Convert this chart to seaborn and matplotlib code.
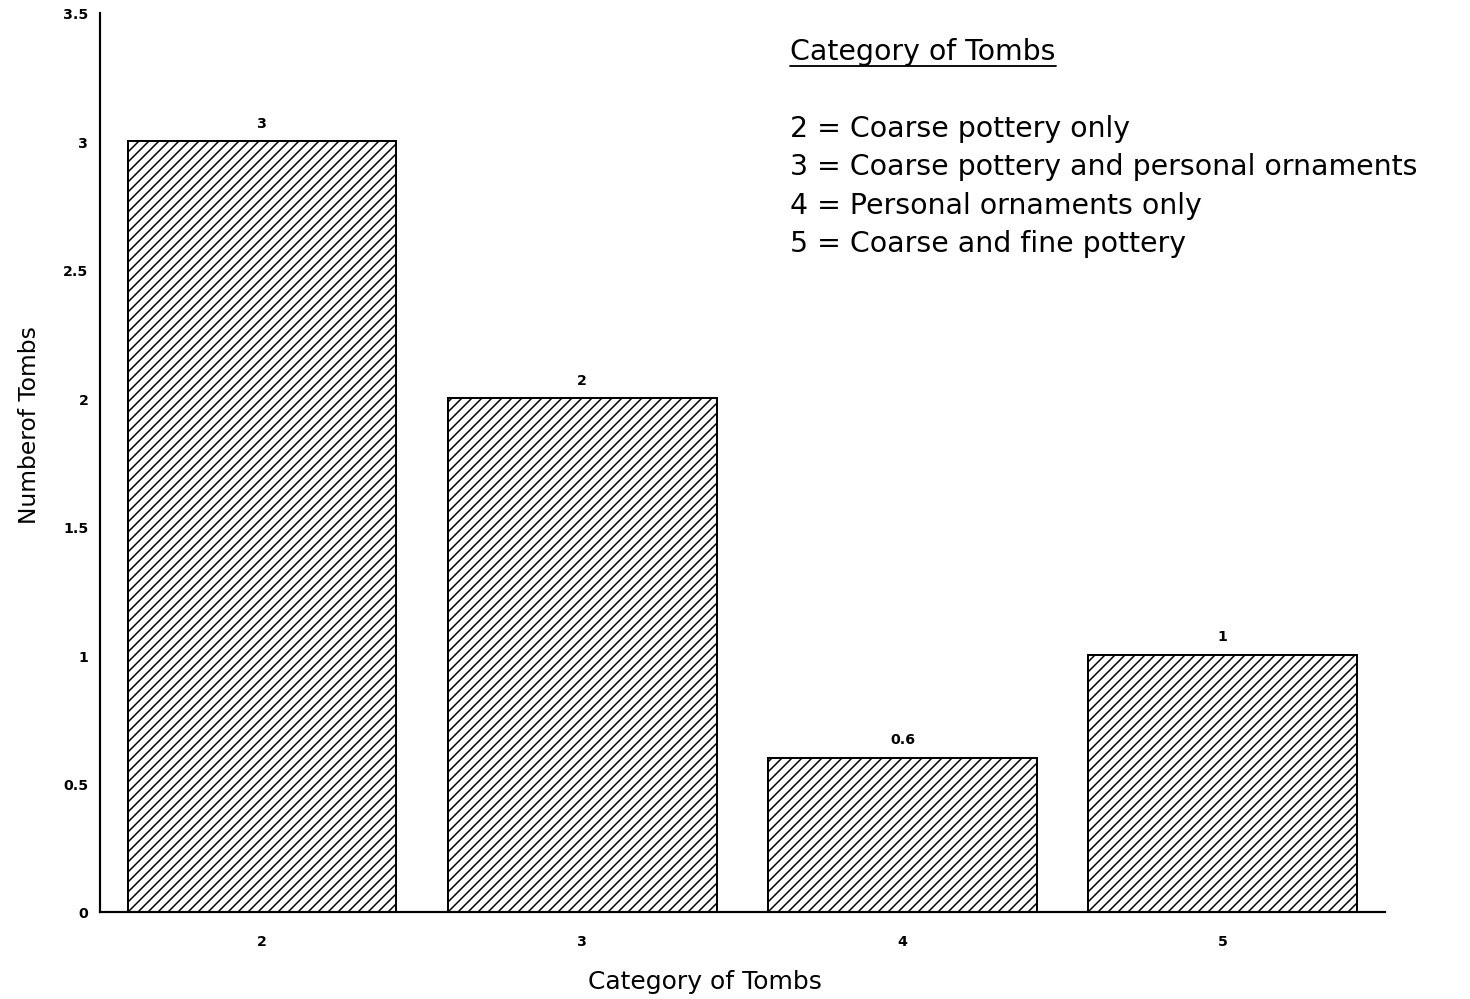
"""
Bar chart of tomb counts by category, hatched bars in the old report style.
"""

import matplotlib
matplotlib.use("Agg")
import matplotlib.pyplot as plt
from matplotlib.lines import Line2D
import seaborn as sns

categories = ["2", "3", "4", "5"]
tomb_counts = [3, 2, 0.6, 1]
bar_labels = ["3", "2", "0.6", "1"]
y_ticks = [0, 0.5, 1, 1.5, 2, 2.5, 3, 3.5]
y_tick_labels = ["0", "0.5", "1", "1.5", "2", "2.5", "3", "3.5"]
key_title = "Category of Tombs"
key_lines = [
    "2 = Coarse pottery only",
    "3 = Coarse pottery and personal ornaments",
    "4 = Personal ornaments only",
    "5 = Coarse and fine pottery",
]


def main():
    sns.set_style("white")
    plt.rcParams["font.family"] = ["DejaVu Sans"]
    plt.rcParams["hatch.linewidth"] = 0.9
    for key in ["text.color", "axes.labelcolor", "xtick.color", "ytick.color"]:
        plt.rcParams[key] = "black"

    fig = plt.figure(figsize=(12.25, 8.333), dpi=120)
    ax = fig.add_axes([0.068, 0.087, 0.874, 0.899])

    sns.barplot(x=categories, y=tomb_counts, color="white", edgecolor="black",
                linewidth=1.2, width=0.84, hatch="////", ax=ax)

    ax.bar_label(ax.containers[0], labels=bar_labels, padding=7,
                 fontsize=8.5, fontweight="bold")

    ax.set_xlim(-0.506, 3.506)
    ax.set_ylim(0, 3.5)
    ax.set_yticks(y_ticks)
    ax.set_yticklabels(y_tick_labels)
    ax.tick_params(axis="both", length=0, labelsize=8.5)
    ax.tick_params(axis="x", pad=13)
    ax.tick_params(axis="y", pad=7)
    for lab in ax.get_xticklabels() + ax.get_yticklabels():
        lab.set_fontweight("bold")

    sns.despine(ax=ax)
    for side in ["left", "bottom"]:
        ax.spines[side].set_linewidth(1.3)
        ax.spines[side].set_color("black")

    ax.set_xlabel("Category of Tombs", fontsize=15)
    ax.set_ylabel("Numberof Tombs", fontsize=14)
    ax.xaxis.set_label_coords(0.471, -0.064)
    ax.yaxis.set_label_coords(-0.046, 0.543)

    # key box in the upper right
    x0 = 790 / 1470
    title = fig.text(x0, 1 - 52 / 1000, key_title, fontsize=17,
                     va="center", ha="left")
    for i, line in enumerate(key_lines):
        fig.text(x0, 1 - (129 + 38.5 * i) / 1000, line, fontsize=17,
                 va="center", ha="left")

    # underline the key title
    fig.canvas.draw()
    bb = title.get_window_extent().transformed(fig.transFigure.inverted())
    fig.add_artist(Line2D([bb.x0, bb.x1], [bb.y0 - 0.001, bb.y0 - 0.001],
                          transform=fig.transFigure, color="black", lw=1.1))

    fig.savefig("out.png", dpi=120)


if __name__ == "__main__":
    main()
